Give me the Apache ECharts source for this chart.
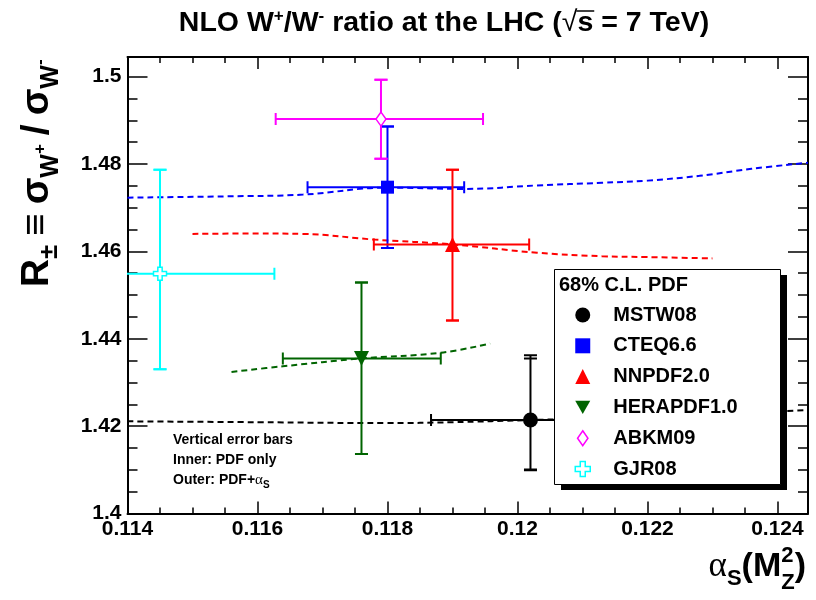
<!DOCTYPE html>
<html><head><meta charset="utf-8">
<script src="https://cdn.jsdelivr.net/npm/echarts@6/dist/echarts.min.js"></script>
<style>html,body{margin:0;padding:0;background:#fff}#c{width:816px;height:600px}</style>
</head><body><div id="c"></div>
<script>
// ---------------- data ----------------
const pdfNames  = ['MSTW08', 'CTEQ6.6', 'NNPDF2.0', 'HERAPDF1.0', 'ABKM09', 'GJR08'];
const pdfColors = ['#000000', '#0000ff', '#ff0000', '#006400', '#ff00ff', '#00ffff'];
const alphaS    = [0.1202, 0.1180, 0.1190, 0.1176, 0.1179, 0.1145];
const ratio     = [1.4214, 1.4747, 1.4616, 1.4355, 1.4903, 1.4549];
const alphaLow  = [0.11867, 0.11677, 0.11779, 0.11639, 0.11628, 0.11276];
const alphaHigh = [0.12170, 0.11918, 0.12018, 0.11882, 0.11947, 0.11626];
const ratioLowInner  = [1.4101, 1.4608, 1.4442, 1.4136, 1.4812, 1.4330];
const ratioHighInner = [1.4355, 1.4886, 1.4787, 1.4529, 1.4993, 1.4787];
const ratioLowOuter  = [1.4099, 1.4608, 1.4442, 1.4136, 1.4812, 1.4330];
const ratioHighOuter = [1.4362, 1.4886, 1.4787, 1.4529, 1.4993, 1.4787];

const mstwCurveAlpha = [0.1140, 0.1160, 0.1180, 0.1190, 0.1202, 0.1215, 0.1230, 0.12447];
const mstwCurveR     = [1.4211, 1.4209, 1.4207, 1.4209, 1.4214, 1.4219, 1.4227, 1.4237];
const cteqCurveAlpha = [0.1140, 0.1155, 0.1167, 0.1180, 0.1192, 0.1203, 0.1213, 0.1220, 0.1228, 0.1236, 0.12447];
const cteqCurveR     = [1.4723, 1.4726, 1.4730, 1.4746, 1.4743, 1.4751, 1.4757, 1.4762, 1.4773, 1.4789, 1.4803];
const nnpdfCurveAlpha = [0.1150, 0.1160, 0.1167, 0.1178, 0.1190, 0.1203, 0.1213, 0.1220, 0.1230];
const nnpdfCurveR     = [1.4640, 1.4641, 1.4640, 1.4627, 1.4616, 1.4597, 1.4589, 1.4587, 1.4584];
const heraCurveAlpha = [0.1156, 0.11639, 0.1176, 0.11882, 0.11958];
const heraCurveR     = [1.4324, 1.4337, 1.4355, 1.4368, 1.4389];

const xTickMin = 0.114, xTickMax = 0.12447, xTickStep = 0.002;
const yTickMin = 1.4, yTickMax = 1.5045, yTickStep = 0.02;

// ---------------- helpers ----------------
const FONT = '"Liberation Sans", Arial, Helvetica, sans-serif';
const SERIF = '"Liberation Serif", "Times New Roman", serif';
const mctx = document.createElement('canvas').getContext('2d');
function fstr(p) { return (p.weight || 'bold') + ' ' + p.size + 'px ' + (p.family || FONT); }
function measure(parts) {
  let w = 0;
  parts.forEach(p => {
    if (p.gap) { w += p.gap; return; }
    mctx.font = fstr(p);
    p._w = mctx.measureText(p.t).width;
    if (!p.noAdvance) w += p._w;
  });
  return w;
}
function layoutText(parts, x0, base, z) {
  const els = [];
  let x = x0;
  parts.forEach(p => {
    if (p.gap) { x += p.gap; return; }
    els.push({
      type: 'text', x: x, y: base + (p.dy || 0) - 0.35 * p.size, z: z || 10,
      style: { text: p.t, font: fstr(p), fill: '#000', textAlign: 'left', textVerticalAlign: 'middle', align: 'left', verticalAlign: 'middle' }
    });
    p._x = x;
    if (!p.noAdvance) x += p._w;
  });
  return els;
}

// ---------------- title ----------------
const titleParts = [
  { t: 'NLO W', size: 28.5 }, { t: '+', size: 17, dy: -11 }, { t: '/W', size: 28.5 }, { t: '-', size: 17, dy: -11 },
  { t: ' ratio at the LHC (', size: 28.5 }, { t: '\u221A', size: 28.5, weight: 'normal' }, { t: 's', size: 28.5 },
  { t: ' = 7 TeV)', size: 28.5 }
];
const titleW = measure(titleParts);
const titleEls = layoutText(titleParts, 444 - titleW / 2, 33);
const sqrtP = titleParts[5], sP = titleParts[6];
titleEls.push({ type: 'line', z: 10, shape: { x1: sqrtP._x + sqrtP._w - 1, y1: 11, x2: sP._x + sP._w + 1, y2: 11 }, style: { stroke: '#000', lineWidth: 1.5 } });

// ---------------- y axis title (rotated) ----------------
const yTitleParts = [
  { t: 'R', size: 39 }, { t: '\u00B1', size: 25, dy: 8 }, { gap: 9 }, { t: '\u2261', size: 39 }, { gap: 9 },
  { t: '\u03C3', size: 39 }, { t: 'W', size: 25, dy: 9 }, { t: '+', size: 17, dy: -5 }, { gap: 9 },
  { t: '/', size: 39 }, { gap: 9 },
  { t: '\u03C3', size: 39 }, { t: 'W', size: 25, dy: 9 }, { t: '-', size: 17, dy: -5 }
];
measure(yTitleParts);
const yTitleEls = layoutText(yTitleParts, 0, 0);

// ---------------- x axis title ----------------
const xTitleParts = [
  { t: '\u03B1', size: 35, weight: 'normal', family: SERIF }, { t: 'S', size: 22, dy: 8 },
  { t: '(M', size: 34 }, { t: '2', size: 22, dy: -15, noAdvance: true }, { t: 'Z', size: 22, dy: 12 },
  { t: ')', size: 34 }
];
const xTitleW = measure(xTitleParts);
const xTitleEls = layoutText(xTitleParts, 806 - xTitleW, 579);

// ---------------- note ----------------
const noteEls = [].concat(
  layoutText([{ t: 'Vertical error bars', size: 14 }], 173, 445),
  layoutText([{ t: 'Inner: PDF only', size: 14 }], 173, 465),
  (function () {
    const p = [{ t: 'Outer: PDF+', size: 14 }, { t: '\u03B1', size: 15, weight: 'normal', family: SERIF }, { t: 'S', size: 10, dy: 4 }];
    measure(p); return layoutText(p, 173, 485);
  })()
);

// ---------------- symbols ----------------
const downTri = 'path://M0,0L16,0L8,14Z';
const diamondPath = 'path://M4.5,0L9,6.5L4.5,13L0,6.5Z';
const crossPath = 'path://M1,0H2V1H3V2H2V3H1V2H0V1H1Z';
const symbols = ['circle', 'rect', 'triangle', downTri, diamondPath, crossPath];
const symbolSizes = [15, 13, 15, 15, [10, 14], 13];
const fills = ['#000000', '#0000ff', '#ff0000', '#006400', '#ffffff', '#ffffff'];
const borders = [0, 0, 0, 0, 1.5, 1.5];

// ---------------- series ----------------
const series = [];
function curve(ax, ry, color) {
  series.push({
    type: 'line', data: ax.map((a, k) => [a, ry[k]]), smooth: 0.4, symbol: 'none', silent: true, z: 1,
    lineStyle: { color: color, width: 2, type: [6, 4] }, xAxisIndex: 0, yAxisIndex: 0
  });
}
curve(mstwCurveAlpha, mstwCurveR, pdfColors[0]);
curve(cteqCurveAlpha, cteqCurveR, pdfColors[1]);
curve(nnpdfCurveAlpha, nnpdfCurveR, pdfColors[2]);
curve(heraCurveAlpha, heraCurveR, pdfColors[3]);

pdfNames.forEach((n, i) => {
  series.push({
    type: 'custom', clip: true, silent: true, z: 2, xAxisIndex: 0, yAxisIndex: 0,
    data: [[alphaS[i], ratio[i], alphaLow[i], alphaHigh[i], ratioLowInner[i], ratioHighInner[i], ratioLowOuter[i], ratioHighOuter[i]]],
    renderItem: function (params, api) {
      const c = api.coord([api.value(0), api.value(1)]);
      const xl = api.coord([api.value(2), api.value(1)])[0];
      const xh = api.coord([api.value(3), api.value(1)])[0];
      const ys = [4, 5, 6, 7].map(k => api.coord([api.value(0), api.value(k)])[1]);
      const yTop = Math.min.apply(null, ys), yBot = Math.max.apply(null, ys);
      const st = { stroke: pdfColors[i], lineWidth: 2 };
      const ch = [];
      const L = (x1, y1, x2, y2) => ch.push({ type: 'line', shape: { x1: x1, y1: y1, x2: x2, y2: y2 }, style: st });
      L(xl, c[1], xh, c[1]);
      L(xl, c[1] - 6, xl, c[1] + 6);
      L(xh, c[1] - 6, xh, c[1] + 6);
      L(c[0], yTop, c[0], yBot);
      ys.forEach(y => L(c[0] - 6.5, y, c[0] + 6.5, y));
      return { type: 'group', children: ch };
    }
  });
});

pdfNames.forEach((n, i) => {
  series.push({
    type: 'scatter', name: n, z: 3, xAxisIndex: 0, yAxisIndex: 0,
    data: [[alphaS[i], ratio[i]]],
    symbol: symbols[i], symbolSize: symbolSizes[i],
    itemStyle: { color: fills[i], borderColor: pdfColors[i], borderWidth: borders[i], opacity: 1 }
  });
});

// ---------------- axes ----------------
function xAx(pos, labels) {
  return {
    type: 'value', position: pos, min: xTickMin, max: xTickMax, interval: xTickStep,
    axisLine: { show: true, onZero: false, lineStyle: { color: '#000', width: 2 } },
    axisTick: { show: true, inside: true, length: 12, lineStyle: { color: '#000', width: 1.5 } },
    minorTick: { show: true, splitNumber: 4, length: 6, lineStyle: { color: '#000', width: 1.5 } },
    axisLabel: { show: labels, showMaxLabel: false, color: '#000', fontSize: 21, fontWeight: 'bold', fontFamily: FONT, margin: 5 },
    splitLine: { show: false }, minorSplitLine: { show: false }
  };
}
function yAx(pos, labels) {
  return {
    type: 'value', position: pos, min: yTickMin, max: yTickMax, interval: yTickStep,
    axisLine: { show: true, onZero: false, lineStyle: { color: '#000', width: 2 } },
    axisTick: { show: true, inside: true, length: 20, lineStyle: { color: '#000', width: 1.5 } },
    minorTick: { show: true, splitNumber: 4, length: 10, lineStyle: { color: '#000', width: 1.5 } },
    axisLabel: { show: labels, showMaxLabel: false, color: '#000', fontSize: 21, fontWeight: 'bold', fontFamily: FONT, margin: 6 },
    splitLine: { show: false }, minorSplitLine: { show: false }
  };
}

const chart = echarts.init(document.getElementById('c'), null, { renderer: 'canvas' });
chart.setOption({
  animation: false,
  backgroundColor: '#ffffff',
  grid: { left: 127.5, right: 8, top: 57, bottom: 86.5, containLabel: false },
  xAxis: [xAx('bottom', true), xAx('top', false)],
  yAxis: [yAx('left', true), yAx('right', false)],
  legend: {
    orient: 'vertical', left: 574.5, top: 304, padding: 0, itemWidth: 15, itemHeight: 15, itemGap: 8.8, z: 20,
    selectedMode: false,
    textStyle: { fontSize: 20, fontWeight: 'bold', fontFamily: FONT, color: '#000', lineHeight: 22, padding: [0, 0, 0, 18] },
    data: pdfNames.map((n, i) => ({
      name: n, icon: symbols[i],
      itemStyle: { color: fills[i], borderColor: pdfColors[i], borderWidth: borders[i] }
    }))
  },
  graphic: {
    elements: [].concat(
      titleEls,
      [{ type: 'group', x: 51, y: 287, rotation: Math.PI / 2, children: yTitleEls }],
      xTitleEls,
      noteEls,
      [
        { type: 'rect', z: 15, shape: { x: 561, y: 275, width: 226, height: 215 }, style: { fill: '#000' } },
        { type: 'rect', z: 16, shape: { x: 554.5, y: 269.5, width: 226, height: 215 }, style: { fill: '#fff', stroke: '#000', lineWidth: 1 } }
      ],
      layoutText([{ t: '68% C.L. PDF', size: 20 }], 559, 292, 20)
    )
  },
  series: series
});
</script>
</body></html>
